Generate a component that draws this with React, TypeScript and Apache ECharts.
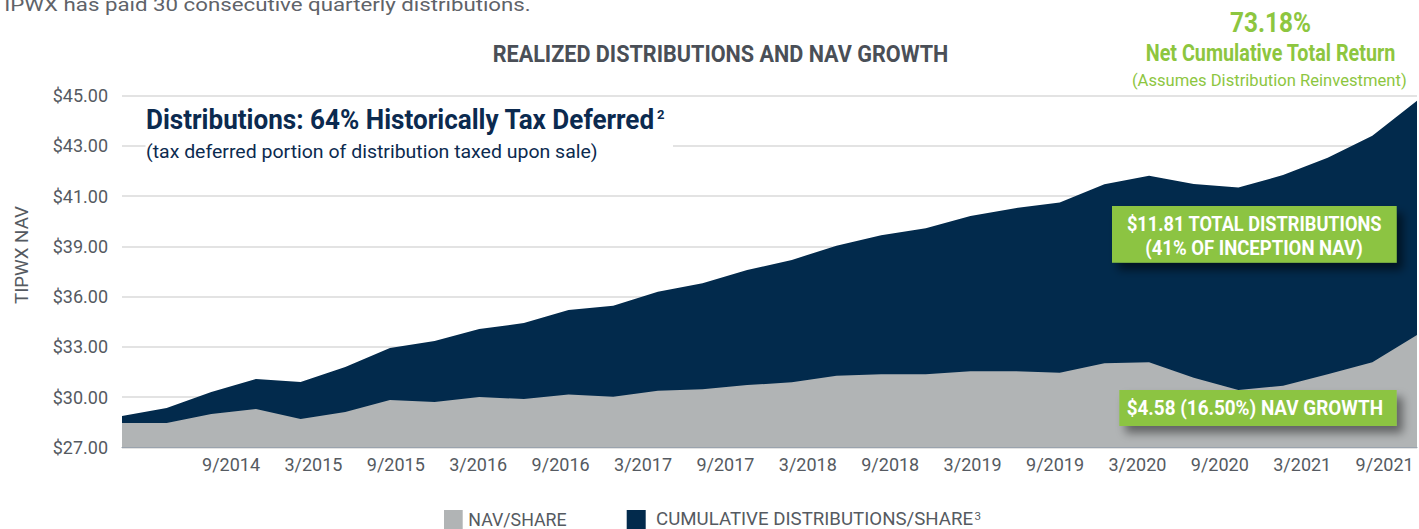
import React, { useEffect, useRef } from "react";
import * as echarts from "echarts";

// ---- Data ----
const quarters = [
  "3/2014", "6/2014", "9/2014", "12/2014", "3/2015", "6/2015", "9/2015", "12/2015",
  "3/2016", "6/2016", "9/2016", "12/2016", "3/2017", "6/2017", "9/2017", "12/2017",
  "3/2018", "6/2018", "9/2018", "12/2018", "3/2019", "6/2019", "9/2019", "12/2019",
  "3/2020", "6/2020", "9/2020", "12/2020", "3/2021", "6/2021",
];
const navPerShare = [
  28.45, 28.45, 28.99, 29.29, 28.69, 29.11, 29.82, 29.71, 30.0, 29.88,
  30.15, 30.02, 30.38, 30.46, 30.72, 30.88, 31.28, 31.36, 31.36, 31.54,
  31.54, 31.46, 32.02, 32.08, 31.16, 30.42, 30.68, 31.36, 32.08, 33.71,
];
const navPlusCumulativeDistributions = [
  28.87, 29.35, 30.3, 31.08, 30.9, 31.8, 32.93, 33.35, 34.07, 34.42,
  35.2, 35.46, 36.29, 36.8, 37.59, 38.19, 39.03, 39.44, 39.72, 40.21,
  40.52, 40.75, 41.47, 41.81, 41.48, 41.34, 41.84, 42.53, 43.41, 44.8,
];
const yTickValues = [27, 30, 33, 36, 39, 41, 43, 45];
const yTickLabels = ["$27.00", "$30.00", "$33.00", "$36.00", "$39.00", "$41.00", "$43.00", "$45.00"];
const xTickLabels = [
  "9/2014", "3/2015", "9/2015", "3/2016", "9/2016", "3/2017", "9/2017", "3/2018",
  "9/2018", "3/2019", "9/2019", "3/2020", "9/2020", "3/2021", "9/2021",
];

const NAVY = "#022a4c";
const GRAY_AREA = "#b1b4b5";
const GREEN = "#8dc63f";
const BOX_GREEN = "#8cc443";
const TEXT_GRAY = "#555a61";
const FONT = "Roboto";

// The y axis is evenly spaced between its (unevenly valued) tick labels.
function toAxis(v: number): number {
  for (let i = 0; i < yTickValues.length - 1; i++) {
    if (v <= yTickValues[i + 1]) {
      return i + (v - yTickValues[i]) / (yTickValues[i + 1] - yTickValues[i]);
    }
  }
  return yTickValues.length - 1;
}

export default function App() {
  const ref = useRef<HTMLDivElement>(null);

  useEffect(() => {
    if (!ref.current) return;
    const chart = echarts.init(ref.current, undefined, { renderer: "svg" });
    const ctx = document.createElement("canvas").getContext("2d")!;
    const measure = (text: string, size: number, weight: string) => {
      ctx.font = `${weight} ${size}px ${FONT}`;
      return ctx.measureText(text).width;
    };
    const fitText = (o: {
      text: string; x: number; y: number; size: number; weight?: string;
      color: string; width?: number; align?: string; rotation?: number;
    }) => {
      const weight = o.weight || "normal";
      const sx = o.width ? o.width / measure(o.text, o.size, weight) : 1;
      return {
        type: "text",
        x: o.x,
        y: o.y,
        scaleX: sx,
        rotation: o.rotation || 0,
        z: 100,
        style: {
          text: o.text,
          fontSize: o.size,
          fontWeight: weight,
          fontFamily: FONT,
          fill: o.color,
          align: o.align || "left",
          verticalAlign: "middle",
        },
      };
    };

    const graphic: any[] = [
      fitText({ text: "TIPWX has paid 30 consecutive quarterly distributions.", x: -9, y: 4.6, size: 18, color: "#5f6369", width: 540 }),
      fitText({ text: "REALIZED DISTRIBUTIONS AND NAV GROWTH", x: 720.5, y: 53.7, size: 24, weight: "bold", color: "#4a4f57", width: 455.6, align: "center" }),
      { type: "rect", z: 99, shape: { x: 145.5, y: 101, width: 527.5, height: 66 }, style: { fill: "#ffffff" } },
      fitText({ text: "Distributions: 64% Historically Tax Deferred", x: 146, y: 120, size: 28, weight: "bold", color: "#0b2a4f", width: 509 }),
      fitText({ text: "2", x: 657, y: 114.5, size: 13, weight: "bold", color: "#0b2a4f", width: 7.5 }),
      fitText({ text: "(tax deferred portion of distribution taxed upon sale)", x: 146, y: 152.6, size: 18, color: "#0b2a4f", width: 452 }),
      fitText({ text: "73.18%", x: 1270.5, y: 22.7, size: 28, weight: "bold", color: GREEN, width: 81, align: "center" }),
      fitText({ text: "Net Cumulative Total Return", x: 1270.5, y: 53.3, size: 23.5, weight: "bold", color: GREEN, width: 250, align: "center" }),
      fitText({ text: "(Assumes Distribution Reinvestment)", x: 1269.3, y: 80, size: 17, color: GREEN, width: 275, align: "center" }),
      {
        type: "rect", z: 99,
        shape: { x: 1112, y: 206, width: 284.7, height: 56.7 },
        style: { fill: BOX_GREEN, shadowBlur: 10, shadowOffsetX: 6, shadowOffsetY: 7, shadowColor: "rgba(0,0,0,0.55)" },
      },
      fitText({ text: "$11.81 TOTAL DISTRIBUTIONS", x: 1254.2, y: 223.7, size: 20, weight: "bold", color: "#ffffff", width: 255, align: "center" }),
      fitText({ text: "(41% OF INCEPTION NAV)", x: 1254, y: 248.7, size: 20, weight: "bold", color: "#ffffff", width: 217.7, align: "center" }),
      {
        type: "rect", z: 99,
        shape: { x: 1119.3, y: 390, width: 277.4, height: 36 },
        style: { fill: BOX_GREEN, shadowBlur: 10, shadowOffsetX: 6, shadowOffsetY: 7, shadowColor: "rgba(0,0,0,0.45)" },
      },
      fitText({ text: "$4.58 (16.50%) NAV GROWTH", x: 1126.7, y: 408.8, size: 20, weight: "bold", color: "#ffffff", width: 256.7 }),
      fitText({ text: "TIPWX NAV", x: 22, y: 255, size: 18, color: TEXT_GRAY, width: 98, align: "center", rotation: Math.PI / 2 }),
      { type: "rect", z: 100, shape: { x: 444, y: 510, width: 18.7, height: 19 }, style: { fill: GRAY_AREA } },
      fitText({ text: "NAV/SHARE", x: 468.3, y: 519, size: 19, color: TEXT_GRAY, width: 98.4 }),
      { type: "rect", z: 100, shape: { x: 626.7, y: 510, width: 19, height: 19 }, style: { fill: NAVY } },
      fitText({ text: "CUMULATIVE DISTRIBUTIONS/SHARE", x: 656, y: 519, size: 19, color: TEXT_GRAY, width: 317.3 }),
      fitText({ text: "3", x: 974.5, y: 517, size: 10, color: TEXT_GRAY, width: 6.5 }),
    ];

    const option: any = {
      animation: false,
      backgroundColor: "#ffffff",
      grid: { left: 122, right: 2, top: 95.7, bottom: 529 - 447.3, containLabel: false },
      xAxis: [
        {
          type: "category",
          data: quarters,
          boundaryGap: false,
          axisLabel: { show: false },
          axisTick: { show: false },
          axisLine: { show: true, lineStyle: { color: "#9aa3ad", width: 1.2 } },
          splitLine: { show: false },
          z: 5,
        },
        {
          type: "value",
          position: "bottom",
          min: -1.323,
          max: 14.393,
          axisLine: { show: false },
          axisTick: { show: false },
          splitLine: { show: false },
          axisLabel: {
            customValues: xTickLabels.map((_, i) => i),
            formatter: (v: number) => xTickLabels[Math.round(v)] ?? "",
            fontSize: 18,
            fontFamily: FONT,
            color: TEXT_GRAY,
            margin: 8,
          },
        },
      ],
      yAxis: {
        type: "value",
        min: 0,
        max: yTickValues.length - 1,
        interval: 1,
        axisLine: { show: false },
        axisTick: { show: false },
        splitLine: { show: true, lineStyle: { color: "#dadada", width: 1.5 } },
        axisLabel: {
          formatter: (v: number) => yTickLabels[Math.round(v)] ?? "",
          fontSize: 18,
          fontFamily: FONT,
          color: TEXT_GRAY,
          margin: 14,
        },
      },
      series: [
        {
          name: "CUMULATIVE DISTRIBUTIONS/SHARE",
          type: "line",
          data: navPlusCumulativeDistributions.map(toAxis),
          symbol: "none",
          lineStyle: { width: 0, opacity: 0 },
          areaStyle: { color: NAVY, opacity: 1, origin: "start" },
          z: 2,
        },
        {
          name: "NAV/SHARE",
          type: "line",
          data: navPerShare.map(toAxis),
          symbol: "none",
          lineStyle: { width: 0, opacity: 0 },
          areaStyle: { color: GRAY_AREA, opacity: 1, origin: "start" },
          z: 3,
        },
      ],
      graphic,
    };
    chart.setOption(option);
    return () => chart.dispose();
  }, []);

  return (
    <div
      ref={ref}
      style={{ position: "fixed", left: 0, top: 0, width: 1419, height: 529, background: "#fff" }}
    />
  );
}
